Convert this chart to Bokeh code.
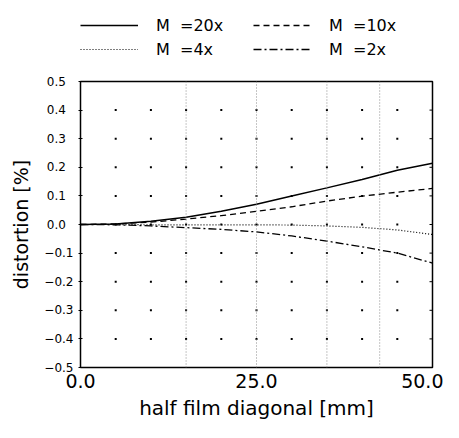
from bokeh.plotting import figure
from bokeh.models import (Range1d, FixedTicker, Span, Legend, LegendItem)
from bokeh.layouts import column
from bokeh.embed import file_html
from bokeh.resources import INLINE

# ---- data ----
x_mm = [0, 5, 10, 15, 20, 25, 30, 35, 40, 45, 50]
dist_20x = [0, 0.002, 0.011, 0.025, 0.046, 0.071, 0.100, 0.128, 0.157, 0.190, 0.214]
dist_10x = [0, 0.002, 0.008, 0.019, 0.031, 0.046, 0.062, 0.082, 0.099, 0.113, 0.126]
dist_4x = [0, 0.000, -0.001, -0.001, -0.001, -0.001, -0.002, -0.005, -0.010, -0.019, -0.035]
dist_2x = [0, -0.001, -0.005, -0.011, -0.017, -0.026, -0.040, -0.058, -0.078, -0.100, -0.135]
series_labels = ["M\u00a0\u00a0=20x", "M\u00a0\u00a0=10x", "M\u00a0\u00a0=4x", "M\u00a0\u00a0=2x"]

x_ticks = [0, 25, 50]
x_tick_labels = ["0.0", "25.0", "50.0"]
y_ticks = [-0.5, -0.4, -0.3, -0.2, -0.1, 0.0, 0.1, 0.2, 0.3, 0.4, 0.5]
y_tick_labels = ["\u22120.5", "\u22120.4", "\u22120.3", "\u22120.2", "\u22120.1",
                 "0.0\u2007", "0.1\u2007", "0.2\u2007", "0.3\u2007", "0.4\u2007", "0.5\u2007"]
dot_x = [5, 10, 15, 20, 25, 30, 35, 40, 45]
dot_y = [-0.4, -0.3, -0.2, -0.1, 0.0, 0.1, 0.2, 0.3, 0.4]
field_lines = [15, 25, 35, 42.5]

FONT = "DejaVu Sans"
series = [dist_20x, dist_10x, dist_4x, dist_2x]
styles = [("solid", 1.5), ("6 4", 1.3), ("1 2", 1.2), ("8 3 2 3", 1.3)]

# ---- main chart ----
p = figure(width=443, height=360, output_backend="svg", toolbar_location=None,
           x_range=Range1d(0, 50), y_range=Range1d(-0.5, 0.5),
           min_border_left=80, min_border_right=11, min_border_top=19, min_border_bottom=53)
p.background_fill_color = "white"
p.border_fill_color = "white"
p.outline_line_color = "black"
p.outline_line_width = 1.5
p.grid.visible = False

for fx in field_lines:
    p.add_layout(Span(location=fx, dimension="height", line_color="#8c8c8c",
                      line_width=1, line_dash="1 2"))

gx = [a for a in dot_x for b in dot_y]
gy = [b for a in dot_x for b in dot_y]
p.scatter(gx, gy, marker="square", size=2, color="black", line_width=0)

# right-edge tick marks (half of each dash falls inside the frame)
p.scatter([x_mm[-1]] * len(y_ticks), y_ticks, marker="dash", size=6,
          line_color="black", line_width=1)

for ys, (dash, w) in zip(series, styles):
    p.line(x_mm, ys, line_color="black", line_width=w, line_dash=dash)

xa = p.xaxis[0]
xa.ticker = FixedTicker(ticks=x_ticks)
xa.major_label_overrides = {t: l for t, l in zip(x_ticks, x_tick_labels)}
xa.major_tick_out = 0
xa.major_tick_in = 0
xa.minor_tick_out = 0
xa.minor_tick_in = 0
xa.axis_line_color = "black"
xa.major_label_text_font = FONT
xa.major_label_text_font_size = "19px"
xa.major_label_standoff = 6
xa.axis_label = "half film diagonal [mm]"
xa.axis_label_text_font = FONT
xa.axis_label_text_font_style = "normal"
xa.axis_label_text_font_size = "20px"
xa.axis_label_standoff = 5
xa.major_label_text_color = "black"
xa.axis_label_text_color = "black"

ya = p.yaxis[0]
ya.ticker = FixedTicker(ticks=y_ticks)
ya.major_label_overrides = {t: l for t, l in zip(y_ticks, y_tick_labels)}
ya.major_tick_out = 2
ya.major_tick_in = 2
ya.minor_tick_out = 0
ya.minor_tick_in = 0
ya.axis_line_color = "black"
ya.major_label_text_font = FONT
ya.major_label_text_font_size = "12px"
ya.major_label_standoff = 5
ya.axis_label = "distortion [%]"
ya.axis_label_text_font = FONT
ya.axis_label_text_font_style = "normal"
ya.axis_label_text_font_size = "19px"
ya.axis_label_standoff = 9
ya.major_label_text_color = "black"
ya.axis_label_text_color = "black"

# ---- legend strip above the chart (its own lines lie outside its view) ----
lg = figure(width=443, height=62, output_backend="svg", toolbar_location=None,
            x_range=Range1d(100, 200), y_range=Range1d(-0.5, 0.5),
            x_axis_type=None, y_axis_type=None,
            min_border_left=80, min_border_right=11, min_border_top=0, min_border_bottom=0)
lg.outline_line_color = None
lg.grid.visible = False
lg.background_fill_color = "white"
lg.border_fill_color = "white"
lg_renderers = []
for ys, (dash, w) in zip(series, styles):
    lg_renderers.append(lg.line(x_mm, ys, line_color="black", line_width=w, line_dash=dash))

order = [0, 2, 1, 3]
legend = Legend(items=[LegendItem(label=series_labels[i], renderers=[lg_renderers[i]]) for i in order],
                orientation="vertical", nrows=2,
                location=(0, 1), glyph_width=58, glyph_height=24,
                label_standoff=18, label_width=97, spacing=0, padding=0, margin=0,
                border_line_color=None, background_fill_alpha=0,
                label_text_font=FONT, label_text_font_size="16px", label_text_color="black")
lg.add_layout(legend, "center")

open("out.html", "w").write(file_html(column(lg, p, spacing=0), INLINE))
